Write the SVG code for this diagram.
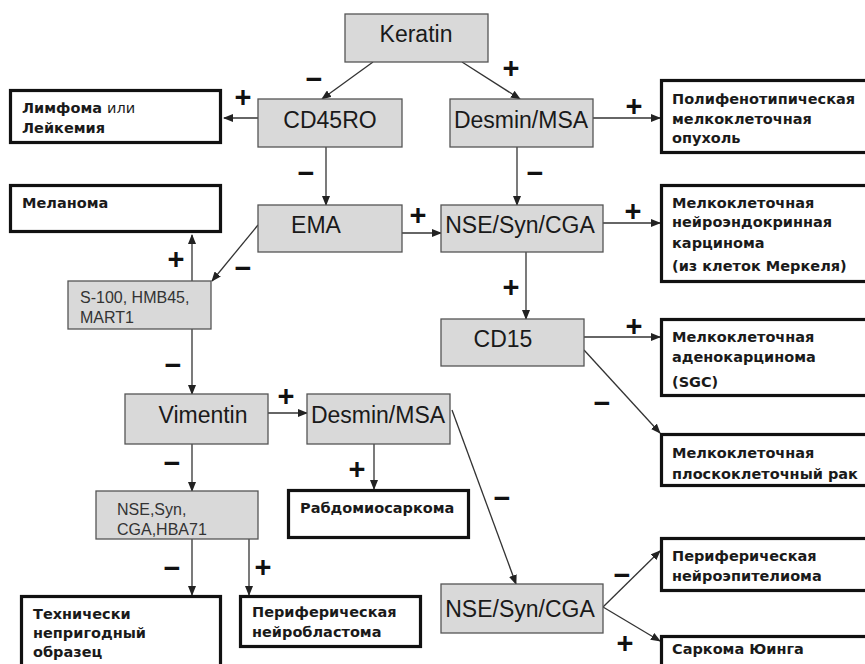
<svg xmlns="http://www.w3.org/2000/svg" width="865" height="664" viewBox="0 0 865 664">
<style>
.g{fill:#d9d9d9;stroke:#555;stroke-width:1.3}
.o{fill:#fff;stroke:#111;stroke-width:3.2}
.gt{font-family:"Liberation Sans",Arial,sans-serif;font-size:23px;fill:#1a1a1a}
.st{font-family:"Liberation Sans",Arial,sans-serif;font-size:16px;fill:#333}
.bt{font-family:"DejaVu Sans",Verdana,sans-serif;font-size:14.5px;font-weight:bold;fill:#1a1a1a}
.nt{font-weight:normal}
.s{font-family:"Liberation Sans",Arial,sans-serif;font-size:29px;font-weight:bold;fill:#111;text-anchor:middle}
.c{stroke:#333;stroke-width:1.3;fill:none;marker-end:url(#ah)}
</style>
<defs>
<marker id="ah" markerWidth="10" markerHeight="8" refX="9" refY="4" orient="auto" markerUnits="userSpaceOnUse">
<path d="M0,0 L10,4 L0,8 Z" fill="#222"/>
</marker>
</defs>
<rect width="865" height="664" fill="#fff"/>
<g id="connectors">
<path class="c" d="M373,62 L322,99"/>
<path class="c" d="M462,62 L520,99"/>
<path class="c" d="M258,118 L224,118"/>
<path class="c" d="M326,147 L326,205"/>
<path class="c" d="M517,147 L517,205"/>
<path class="c" d="M593,118 L660,118"/>
<path class="c" d="M402,233 L441,233"/>
<path class="c" d="M603,223 L660,223"/>
<path class="c" d="M258,225 L212,281"/>
<path class="c" d="M192,281 L192,235"/>
<path class="c" d="M526,252 L526,319"/>
<path class="c" d="M584,337 L660,337"/>
<path class="c" d="M584,350 L660,433"/>
<path class="c" d="M192,329 L192,394"/>
<path class="c" d="M268,413 L307,413"/>
<path class="c" d="M374,444 L374,489"/>
<path class="c" d="M452,410 L516,584"/>
<path class="c" d="M192,444 L192,491"/>
<path class="c" d="M192,539 L192,595"/>
<path class="c" d="M249,539 L249,595"/>
<path class="c" d="M603,607 L660,551"/>
<path class="c" d="M603,607 L660,641"/>
</g>
<g id="signs">
<text class="s" x="314" y="89">−</text>
<text class="s" x="511" y="78">+</text>
<text class="s" x="243" y="107">+</text>
<text class="s" x="306" y="183">−</text>
<text class="s" x="634" y="116">+</text>
<text class="s" x="535" y="183">−</text>
<text class="s" x="418" y="225">+</text>
<text class="s" x="633" y="221">+</text>
<text class="s" x="176" y="269">+</text>
<text class="s" x="243" y="278">−</text>
<text class="s" x="511" y="297">+</text>
<text class="s" x="634" y="336">+</text>
<text class="s" x="173" y="375">−</text>
<text class="s" x="286" y="406">+</text>
<text class="s" x="602" y="413">−</text>
<text class="s" x="172" y="473">−</text>
<text class="s" x="357" y="479">+</text>
<text class="s" x="502" y="508">−</text>
<text class="s" x="172" y="578">−</text>
<text class="s" x="263" y="577">+</text>
<text class="s" x="622" y="585">−</text>
<text class="s" x="625" y="653">+</text>
</g>
<g id="keratin"><rect class="g" x="345" y="14" width="143" height="48"/><text class="gt" x="416" y="42" text-anchor="middle">Keratin</text></g>
<g id="cd45ro"><rect class="g" x="258" y="99" width="144" height="48"/><text class="gt" x="330" y="128" text-anchor="middle">CD45RO</text></g>
<g id="desmin1"><rect class="g" x="450" y="99" width="143" height="48"/><text class="gt" x="521" y="128" text-anchor="middle">Desmin/MSA</text></g>
<g id="ema"><rect class="g" x="258" y="205" width="144" height="47"/><text class="gt" x="316" y="233" text-anchor="middle">EMA</text></g>
<g id="nse1"><rect class="g" x="441" y="205" width="162" height="47"/><text class="gt" x="520" y="233" text-anchor="middle">NSE/Syn/CGA</text></g>
<g id="s100"><rect class="g" x="68" y="281" width="143" height="48"/><text class="st" x="80" y="303">S-100, HMB45,</text><text class="st" x="80" y="323">MART1</text></g>
<g id="cd15"><rect class="g" x="441" y="319" width="143" height="47"/><text class="gt" x="503" y="347" text-anchor="middle">CD15</text></g>
<g id="vimentin"><rect class="g" x="125" y="394" width="143" height="50"/><text class="gt" x="203" y="423" text-anchor="middle">Vimentin</text></g>
<g id="desmin2"><rect class="g" x="307" y="394" width="143" height="50"/><text class="gt" x="378" y="423" text-anchor="middle">Desmin/MSA</text></g>
<g id="nsesyn"><rect class="g" x="96" y="491" width="162" height="48"/><text class="st" x="117" y="515">NSE,Syn,</text><text class="st" x="117" y="535">CGA,HBA71</text></g>
<g id="nse2"><rect class="g" x="441" y="584" width="162" height="49"/><text class="gt" x="520" y="617" text-anchor="middle">NSE/Syn/CGA</text></g>
<g id="lymphoma"><rect class="o" x="10.5" y="90.5" width="210" height="52"/><text class="bt" x="22" y="113">Лимфома <tspan class="nt">или</tspan></text><text class="bt" x="22" y="133">Лейкемия</text></g>
<g id="melanoma"><rect class="o" x="10.5" y="185.5" width="210" height="46"/><text class="bt" x="22" y="208">Меланома</text></g>
<g id="polypheno"><rect class="o" x="661.5" y="80.5" width="220" height="72"/><text class="bt" x="672" y="104">Полифенотипическая</text><text class="bt" x="672" y="124">мелкоклеточная</text><text class="bt" x="672" y="143">опухоль</text></g>
<g id="neuroendo"><rect class="o" x="661.5" y="185.5" width="220" height="96"/><text class="bt" x="672" y="208">Мелкоклеточная</text><text class="bt" x="672" y="227">нейроэндокринная</text><text class="bt" x="672" y="248">карцинома</text><text class="bt" x="672" y="271">(из клеток Меркеля)</text></g>
<g id="adeno"><rect class="o" x="661.5" y="319.5" width="220" height="76"/><text class="bt" x="672" y="342">Мелкоклеточная</text><text class="bt" x="672" y="362">аденокарцинома</text><text class="bt" x="672" y="387">(SGC)</text></g>
<g id="squamous"><rect class="o" x="661.5" y="434.5" width="220" height="51"/><text class="bt" x="672" y="458">Мелкоклеточная</text><text class="bt" x="672" y="479">плоскоклеточный рак</text></g>
<g id="rhabdo"><rect class="o" x="288.5" y="490.5" width="180" height="47"/><text class="bt" x="300" y="513">Рабдомиосаркома</text></g>
<g id="neuroepith"><rect class="o" x="661.5" y="538.5" width="220" height="52"/><text class="bt" x="672" y="561">Периферическая</text><text class="bt" x="672" y="581">нейроэпителиома</text></g>
<g id="ewing"><rect class="o" x="661.5" y="636.5" width="220" height="60"/><text class="bt" x="672" y="654">Саркома Юинга</text></g>
<g id="unsuitable"><rect class="o" x="21.5" y="596.5" width="199" height="80"/><text class="bt" x="33" y="619">Технически</text><text class="bt" x="33" y="638">непригодный</text><text class="bt" x="33" y="657">образец</text></g>
<g id="neuroblast"><rect class="o" x="240.5" y="596.5" width="180" height="50"/><text class="bt" x="252" y="617">Периферическая</text><text class="bt" x="252" y="637">нейробластома</text></g>
</svg>
